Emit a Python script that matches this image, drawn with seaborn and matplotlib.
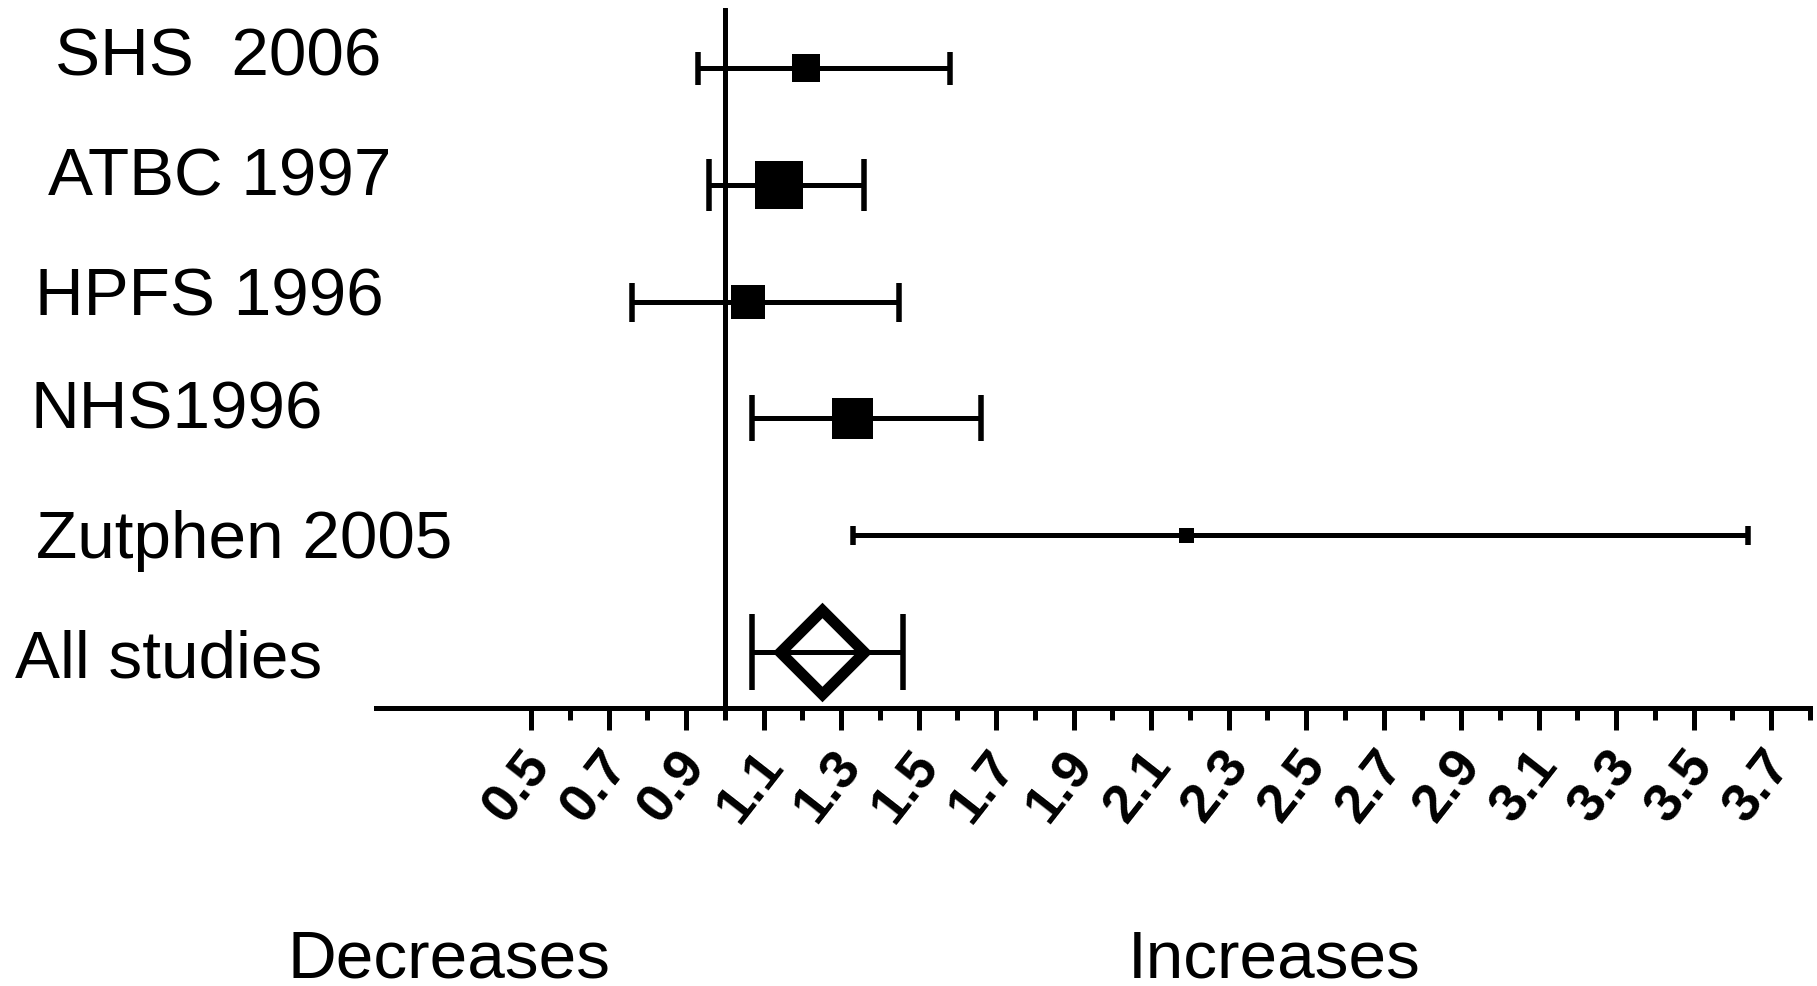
import numpy as np
import matplotlib
matplotlib.use("Agg")
import matplotlib.pyplot as plt
import matplotlib.transforms as mtransforms
import seaborn as sns
from matplotlib.ticker import FixedLocator

# ---------------- data ----------------
studies = ["SHS  2006", "ATBC 1997", "HPFS 1996", "NHS1996", "Zutphen 2005"]
rr = [1.21, 1.14, 1.06, 1.33, 2.19]
ci_low = [0.93, 0.96, 0.76, 1.07, 1.33]
ci_high = [1.58, 1.36, 1.45, 1.66, 3.64]

pooled_label = "All studies"
pooled_rr = 1.25
pooled_low = 1.07
pooled_high = 1.46

major_ticks = [0.5, 0.7, 0.9, 1.1, 1.3, 1.5, 1.7, 1.9, 2.1, 2.3, 2.5, 2.7, 2.9, 3.1, 3.3, 3.5, 3.7]
major_labels = ["0.5", "0.7", "0.9", "1.1", "1.3", "1.5", "1.7", "1.9", "2.1", "2.3",
                "2.5", "2.7", "2.9", "3.1", "3.3", "3.5", "3.7"]
minor_ticks = [0.6, 0.8, 1.0, 1.2, 1.4, 1.6, 1.8, 2.0, 2.2, 2.4, 2.6, 2.8, 3.0, 3.2, 3.4, 3.6, 3.8]
side_labels = ["Decreases", "Increases"]
null_value = 1.0

# ---------------- styles / layout ----------------
W_PX, H_PX, DPI = 1817, 987, 100
PT = 72.0 / DPI  # points per pixel
square_px = [28, 48, 34, 41, 15]
cap_px = [33, 52, 39, 47, 19]
pooled_cap_px = 76
label_pos_px = [(55, 75), (48, 196), (35, 315), (30, 429), (36, 558), (15, 678)]
side_pos_px = [(287, 978), (1128, 978)]
LW = 5 * PT
TEXT_PX = 67.5

sns.set_theme(style="ticks")
plt.rcParams["font.family"] = ["Liberation Sans", "DejaVu Sans"]

fig = plt.figure(figsize=(W_PX / DPI, H_PX / DPI), dpi=DPI)
ax_left, ax_right, ax_top, ax_bot = 376, 1810, 9, 709
ax = fig.add_axes([ax_left / W_PX, 1 - ax_bot / H_PX,
                   (ax_right - ax_left) / W_PX, (ax_bot - ax_top) / H_PX])

rows = np.arange(len(studies))
pooled_row = len(studies)

# reference line
ax.axvline(null_value, color="black", lw=LW, zorder=1)

# CI lines with caps
for i in range(len(studies)):
    ax.errorbar(x=rr[i], y=rows[i],
                xerr=[[rr[i] - ci_low[i]], [ci_high[i] - rr[i]]],
                fmt="none", ecolor="black", elinewidth=LW,
                capsize=cap_px[i] / 2 * PT, capthick=5.5 * PT, zorder=2)

ax.errorbar(x=pooled_rr, y=pooled_row,
            xerr=[[pooled_rr - pooled_low], [pooled_high - pooled_rr]],
            fmt="none", ecolor="black", elinewidth=LW,
            capsize=pooled_cap_px / 2 * PT, capthick=5.5 * PT, zorder=2)

# study squares
sns.scatterplot(x=rr, y=rows, marker="s", color="black", linewidth=0,
                s=(np.array(square_px) * PT) ** 2, ax=ax, zorder=3, legend=False)

# pooled diamond
ax.plot([pooled_rr], [pooled_row], marker="D", markersize=59 * PT,
        markerfacecolor="none", markeredgecolor="black",
        markeredgewidth=11 * PT, linestyle="none", zorder=3)

# axes
ax.set_xlim(0.1, 3.8)
ax.set_ylim(5.479, -0.514)
ax.set_yticks([])
ax.set_xlabel("")
ax.set_ylabel("")
for s in ["left", "top", "right"]:
    ax.spines[s].set_visible(False)
ax.spines["bottom"].set_linewidth(LW)
ax.spines["bottom"].set_color("black")

ax.xaxis.set_major_locator(FixedLocator(major_ticks))
ax.xaxis.set_minor_locator(FixedLocator(minor_ticks))
ax.set_xticklabels(major_labels, rotation=52, ha="right", va="center",
                   rotation_mode="anchor", fontweight="bold", fontsize=39)
ax.tick_params(axis="x", which="major", bottom=True, length=22 * PT, width=LW,
               color="black", pad=26 * PT, labelcolor="black")
ax.tick_params(axis="x", which="minor", bottom=True, length=12 * PT, width=LW,
               color="black")
shift = mtransforms.ScaledTranslation(10 / DPI, 0, fig.dpi_scale_trans)
for lab in ax.get_xticklabels():
    lab.set_transform(lab.get_transform() + shift)

# study labels
for (px, py), lab in zip(label_pos_px, studies + [pooled_label]):
    fig.text(px / W_PX, 1 - py / H_PX, lab, ha="left", va="baseline",
             fontsize=TEXT_PX * PT, color="black")

for (px, py), lab in zip(side_pos_px, side_labels):
    fig.text(px / W_PX, 1 - py / H_PX, lab, ha="left", va="baseline",
             fontsize=TEXT_PX * PT, color="black")

fig.savefig("out.png", dpi=DPI, facecolor="white")
